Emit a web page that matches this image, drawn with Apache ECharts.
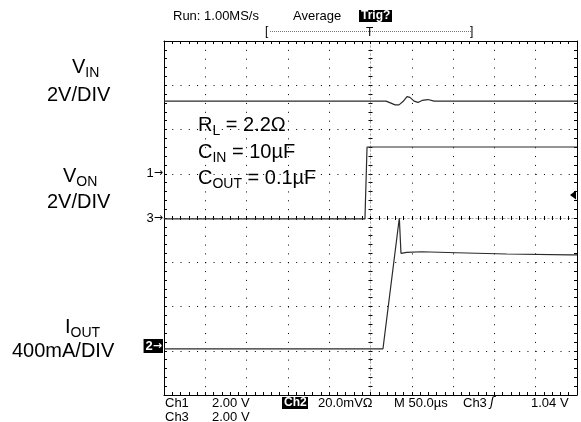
<!DOCTYPE html>
<html>
<head>
<meta charset="utf-8">
<script src="https://cdn.jsdelivr.net/npm/echarts@6/dist/echarts.min.js"></script>
<style>
  html, body { margin: 0; padding: 0; background: #fff; }
  #chart { width: 581px; height: 422px; }
</style>
</head>
<body>
<div id="chart"></div>
<script>
// time base: 50us/div, 10 divisions, trigger at center
const timeMin = -250;
const timeMax = 250;
const timeStep = 50;

// channel settings (units per division, ground marker in divisions from center)
const ch1PerDiv = 2;     // V
const ch1Ground = 1.017;
const ch2PerDiv = 400;   // mA
const ch2Ground = -2.893;
const ch3PerDiv = 2;     // V
const ch3Ground = 0;
const trigLevel = 1.04;  // V on ch3

// Ch1: V_IN (V)
const vinTime = [-250, 18.8, 24.8, 29.7, 34.5, 39.3, 44.2, 47.8, 52.7, 57.5, 62.4, 69.6, 76.9, 250];
const vinVolt = [3.25, 3.25, 3.16, 3.08, 3.08, 3.23, 3.45, 3.42, 3.25, 3.19, 3.28, 3.32, 3.25, 3.25];

// Ch3: V_ON (V)
const vonTime = [-250, -6.7, -4.2, 250];
const vonVolt = [-0.04, -0.04, 3.21, 3.21];

// Ch2: I_OUT (mA)
const ioutTime = [-250, 15.1, 34.9, 36.9, 43.8, 62, 104, 165, 241.5, 250];
const ioutAmp = [-25, -25, 1157, 838, 847, 852, 843, 832, 823, 823];

const font = 'Liberation Sans, Arial, sans-serif';

function pairs(xs, ys) {
    return xs.map((x, i) => [x, ys[i]]);
}

function borderAxis(pos, grid) {
    return {
        type: 'value',
        min: timeMin,
        max: timeMax,
        interval: timeStep,
        position: pos,
        axisLine: { onZero: false, lineStyle: { color: '#000', width: 1 } },
        axisTick: { show: true, inside: true, length: 3, lineStyle: { color: '#000' } },
        minorTick: { show: true, splitNumber: 5, length: 3, lineStyle: { color: '#000' } },
        splitLine: { show: grid, lineStyle: { color: '#000', width: 1, type: [1, 7.85] } },
        axisLabel: { show: false }
    };
}
function centerXAxis(pos) {
    return {
        type: 'value',
        min: timeMin,
        max: timeMax,
        interval: timeStep,
        position: pos,
        axisLine: { onZero: true, onZeroAxisIndex: 0, lineStyle: { color: '#aaa', width: 1, type: [1, 3] } },
        axisTick: { show: true, inside: true, length: 2, lineStyle: { color: '#000' } },
        minorTick: { show: true, splitNumber: 5, length: 2, lineStyle: { color: '#000' } },
        splitLine: { show: false },
        axisLabel: { show: false }
    };
}
function borderYAxis(pos, grid) {
    return {
        type: 'value',
        min: -4,
        max: 4,
        interval: 1,
        position: pos,
        axisLine: { onZero: false, lineStyle: { color: '#000', width: 1 } },
        axisTick: { show: true, inside: true, length: 3, lineStyle: { color: '#000' } },
        minorTick: { show: true, splitNumber: 5, length: 3, lineStyle: { color: '#000' } },
        splitLine: { show: grid, lineStyle: { color: '#000', width: 1, type: [1, 7.26] } },
        axisLabel: { show: false }
    };
}
function centerYAxis(pos) {
    return {
        type: 'value',
        min: -4,
        max: 4,
        interval: 1,
        position: pos,
        axisLine: { onZero: true, onZeroAxisIndex: 0, lineStyle: { color: '#aaa', width: 1, type: [1, 3] } },
        axisTick: { show: true, inside: true, length: 2, lineStyle: { color: '#000' } },
        minorTick: { show: true, splitNumber: 5, length: 2, lineStyle: { color: '#000' } },
        splitLine: { show: false },
        axisLabel: { show: false }
    };
}
function channelAxis(perDiv, ground) {
    return {
        type: 'value',
        show: false,
        position: 'left',
        min: (-4 - ground) * perDiv,
        max: (4 - ground) * perDiv
    };
}

const traceStyle = { color: '#2a2a2a', width: 1.2 };

function groundMarker(text, boxed) {
    return {
        silent: true,
        symbol: 'none',
        animation: false,
        lineStyle: { color: 'rgba(0,0,0,0)', width: 1, type: 'solid' },
        label: {
            show: true,
            position: 'start',
            distance: 1,
            formatter: text,
            color: boxed ? '#fff' : '#000',
            backgroundColor: boxed ? '#000' : 'transparent',
            padding: boxed ? [1, 1, 0, 2] : 0,
            fontFamily: font,
            fontWeight: boxed ? 'bold' : 'normal',
            fontSize: 13,
            rich: {
                a: { fontSize: 11, color: boxed ? '#fff' : '#000', fontFamily: 'DejaVu Sans' }
            }
        },
        data: [{ yAxis: 0 }]
    };
}

function txt(x, y, text, size, opts) {
    return Object.assign({
        type: 'text',
        x: x,
        y: y,
        style: Object.assign({
            text: text,
            fill: '#000',
            font: size + 'px ' + font,
            verticalAlign: 'middle',
            align: 'left'
        }, (opts && opts.style) || {})
    }, (opts && opts.el) || {});
}

function sub(x, y, main, lower, rest) {
    return {
        type: 'text',
        x: x,
        y: y,
        style: {
            text: '{m|' + main + '}{s|' + lower + '}' + (rest ? '{m|' + rest + '}' : ''),
            verticalAlign: 'middle',
            align: 'left',
            rich: {
                m: { fontSize: 20, lineHeight: 24, fontFamily: font, fill: '#000', color: '#000' },
                s: { fontSize: 14, lineHeight: 14, padding: [12, 0, 0, 0], fontFamily: font, fill: '#000', color: '#000' }
            }
        }
    };
}

const myChart = echarts.init(document.getElementById('chart'), null, { renderer: 'canvas' });

const option = {
    animation: false,
    backgroundColor: '#fff',
    grid: { left: 164, right: 4, top: 41, bottom: 27 },
    xAxis: [
        borderAxis('bottom', true),
        borderAxis('top', false),
        centerXAxis('bottom'),
        centerXAxis('top')
    ],
    yAxis: [
        borderYAxis('left', true),
        borderYAxis('right', false),
        centerYAxis('left'),
        centerYAxis('right'),
        channelAxis(ch1PerDiv, ch1Ground),
        channelAxis(ch2PerDiv, ch2Ground),
        channelAxis(ch3PerDiv, ch3Ground)
    ],
    series: [
        {
            name: 'V_IN',
            type: 'line',
            xAxisIndex: 0,
            yAxisIndex: 4,
            clip: false,
            showSymbol: false,
            lineStyle: traceStyle,
            data: pairs(vinTime, vinVolt),
            markLine: groundMarker('1{a|→}', false)
        },
        {
            name: 'I_OUT',
            type: 'line',
            xAxisIndex: 0,
            yAxisIndex: 5,
            clip: false,
            showSymbol: false,
            lineStyle: traceStyle,
            data: pairs(ioutTime, ioutAmp),
            markLine: groundMarker('2{a|→}', true)
        },
        {
            name: 'V_ON',
            type: 'line',
            xAxisIndex: 0,
            yAxisIndex: 6,
            clip: false,
            showSymbol: false,
            lineStyle: traceStyle,
            data: pairs(vonTime, vonVolt),
            markLine: groundMarker('3{a|→}', false),
            markPoint: {
                silent: true,
                symbol: 'path://M0,5 L8,0 L8,10 Z',
                symbolSize: [6, 9],
                symbolOffset: [-4, 0],
                itemStyle: { color: '#000' },
                label: { show: false },
                data: [{ coord: [timeMax, trigLevel] }]
            }
        }
    ],
    graphic: [
        // header
        txt(173, 16, 'Run: 1.00MS/s', 13),
        txt(293, 16, 'Average', 13),
        { type: 'rect', shape: { x: 359, y: 10, width: 33, height: 12 }, style: { fill: '#000' } },
        txt(361, 16, 'Trig?', 12, { style: { fill: '#fff', font: 'bold 12px ' + font } }),
        { type: 'line', shape: { x1: 270, y1: 31.5, x2: 471, y2: 31.5 }, style: { stroke: '#777', lineWidth: 1, lineDash: [1, 1] } },
        txt(265, 32, '[', 12),
        txt(470, 32, ']', 12),
        txt(366, 33, 'T', 12),

        // left channel labels
        sub(72, 67, 'V', 'IN'),
        txt(47, 95, '2V/DIV', 20),
        sub(63, 176, 'V', 'ON'),
        txt(47, 202, '2V/DIV', 20),
        sub(65, 327, 'I', 'OUT'),
        txt(12, 351, '400mA/DIV', 20),

        // conditions
        sub(198, 125, 'R', 'L', ' = 2.2Ω'),
        sub(198, 152, 'C', 'IN', ' = 10µF'),
        sub(198, 178, 'C', 'OUT', ' = 0.1µF'),

        // footer
        txt(165, 403, 'Ch1', 13),
        txt(212, 403, '2.00 V', 13),
        { type: 'rect', shape: { x: 282, y: 397, width: 26, height: 12 }, style: { fill: '#000' } },
        txt(284, 403, 'Ch2', 12, { style: { fill: '#fff', font: 'bold 12px ' + font } }),
        txt(318, 403, '20.0mVΩ', 13),
        txt(394, 403, 'M 50.0µs', 13),
        txt(463, 403, 'Ch3', 13),
        txt(490, 403, 'ʃ', 13, { style: { font: 'italic 13px DejaVu Sans' } }),
        txt(531, 403, '1.04 V', 13),
        txt(165, 417, 'Ch3', 13),
        txt(212, 417, '2.00 V', 13)
    ]
};

myChart.setOption(option);
</script>
</body>
</html>
